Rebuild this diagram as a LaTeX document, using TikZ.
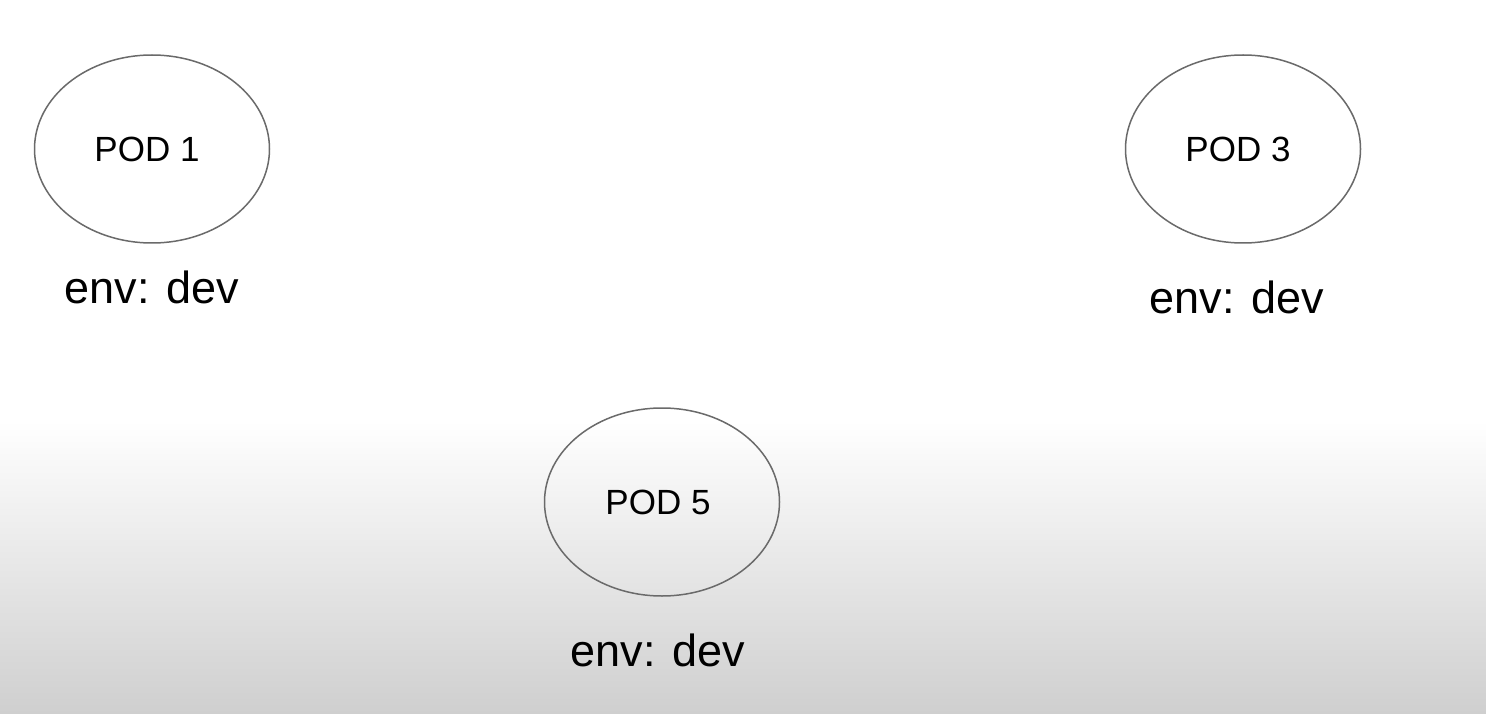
\documentclass[tikz,border=0pt]{standalone}
\usepackage{fontspec}
\setmainfont{Liberation Sans}
\usetikzlibrary{shapes.geometric}
\definecolor{bgbottom}{HTML}{CFCFCF}
\definecolor{edgegray}{HTML}{6A6A6A}
\tikzset{
  pod/.style={draw=edgegray, line width=1.5pt, ellipse, minimum width=235pt, minimum height=188pt, inner sep=0pt},
  podtext/.style={font=\fontsize{35}{40}\selectfont, text=black, inner sep=0pt},
  envlabel/.style={font=\fontsize{45}{52}\selectfont, text=black, inner sep=0pt}
}
\begin{document}
\begin{tikzpicture}[x=1pt,y=-1pt]
\useasboundingbox (0,0) rectangle (1486,714);
\fill[white] (0,0) rectangle (1486,420);
\shade[top color=white, bottom color=bgbottom] (0,420) rectangle (1486,714);
\node[pod] (p1) at (152,149) {};
\node[pod] (p3) at (1243,149) {};
\node[pod] (p5) at (662,502) {};
\node[podtext] (t1) at (147,149) {POD 1};
\node[podtext] (t3) at (1238,149) {POD 3};
\node[podtext] (t5) at (658,502) {POD 5};
\node[envlabel] (l1) at (152,287) {env: dev};
\node[envlabel] (l3) at (1237,297) {env: dev};
\node[envlabel] (l5) at (658,650) {env: dev};
\end{tikzpicture}
\end{document}
